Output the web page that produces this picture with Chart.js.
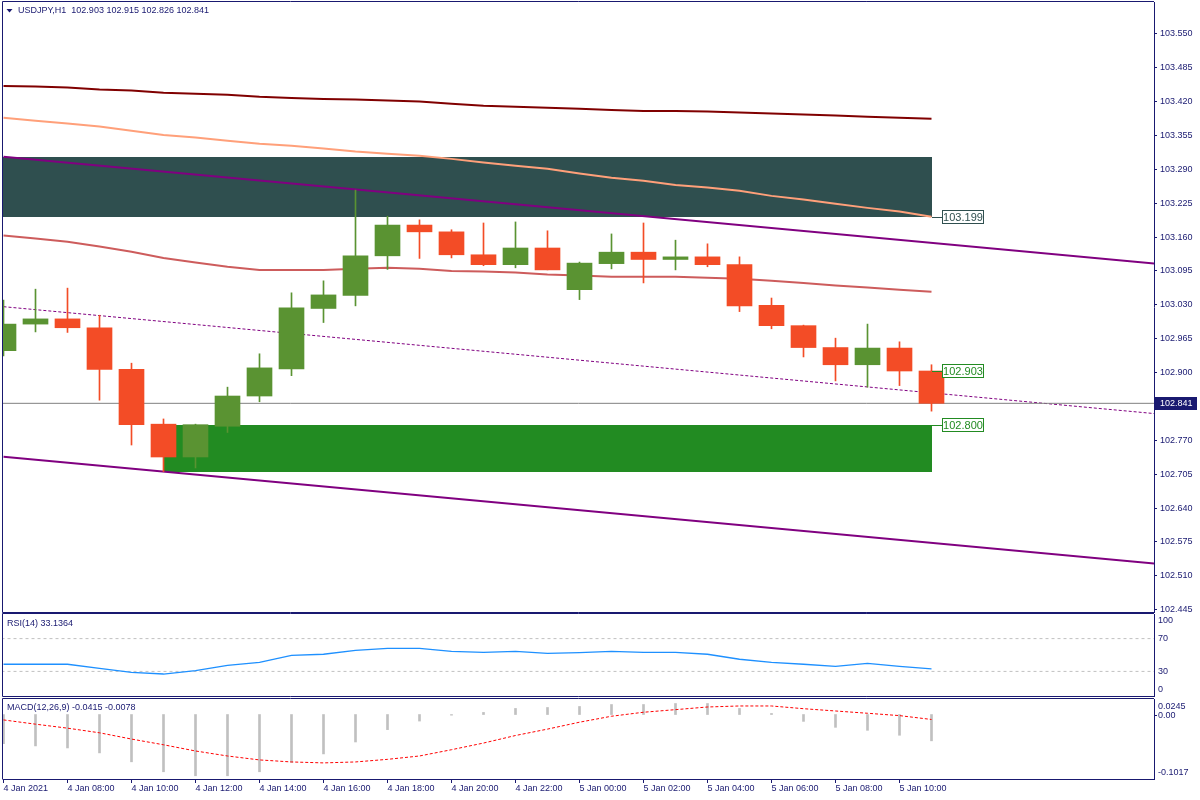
<!DOCTYPE html>
<html><head><meta charset="utf-8">
<script src="https://cdn.jsdelivr.net/npm/chart.js@4.4.1/dist/chart.umd.min.js"></script>
<style>
html,body{margin:0;padding:0;background:#fff;width:1200px;height:800px;overflow:hidden}
canvas{position:absolute;left:0}
#c1{top:0}#c2{top:613px}#c3{top:697px}
</style></head><body>
<canvas id="c1" width="1200" height="613"></canvas>
<canvas id="c2" width="1200" height="84"></canvas>
<canvas id="c3" width="1200" height="103"></canvas>
<script>
// ---------- DATA ----------
const symbol = 'USDJPY,H1';
const timeLabels = ['4 Jan 2021','4 Jan 08:00','4 Jan 10:00','4 Jan 12:00','4 Jan 14:00','4 Jan 16:00','4 Jan 18:00','4 Jan 20:00','4 Jan 22:00','5 Jan 00:00','5 Jan 02:00','5 Jan 04:00','5 Jan 06:00','5 Jan 08:00','5 Jan 10:00'];
const opens  = [102.942,102.993,103.003,102.986,102.906,102.801,102.738,102.797,102.855,102.907,103.023,103.048,103.124,103.183,103.170,103.126,103.107,103.139,103.059,103.109,103.131,103.117,103.122,103.107,103.029,102.990,102.948,102.915,102.947,102.903];
const highs  = [103.039,103.060,103.062,103.010,102.918,102.811,102.801,102.872,102.936,103.053,103.076,103.250,103.200,103.193,103.174,103.187,103.189,103.172,103.112,103.166,103.187,103.154,103.147,103.122,103.043,102.991,102.966,102.993,102.959,102.915];
const lows   = [102.932,102.978,102.977,102.847,102.761,102.710,102.717,102.785,102.844,102.894,102.996,103.028,103.098,103.119,103.120,103.105,103.101,103.097,103.040,103.099,103.072,103.097,103.103,103.017,102.984,102.930,102.884,102.872,102.875,102.826];
const closes = [102.993,103.003,102.986,102.906,102.800,102.738,102.800,102.855,102.909,103.024,103.049,103.124,103.183,103.170,103.126,103.107,103.139,103.097,103.110,103.131,103.117,103.122,103.107,103.028,102.990,102.948,102.915,102.947,102.903,102.841];
const maSlow   = [103.450,103.449,103.447,103.443,103.441,103.437,103.435,103.433,103.429,103.427,103.425,103.424,103.422,103.420,103.416,103.412,103.410,103.408,103.406,103.404,103.402,103.402,103.401,103.399,103.397,103.395,103.393,103.391,103.389,103.387];
const maMid    = [103.389,103.383,103.378,103.372,103.364,103.356,103.351,103.345,103.339,103.335,103.330,103.324,103.320,103.316,103.310,103.303,103.297,103.291,103.282,103.274,103.268,103.260,103.255,103.249,103.239,103.232,103.224,103.216,103.209,103.199];
const maFast   = [103.163,103.157,103.151,103.142,103.132,103.120,103.111,103.103,103.097,103.097,103.097,103.099,103.101,103.099,103.095,103.094,103.092,103.088,103.086,103.084,103.084,103.084,103.082,103.080,103.076,103.072,103.067,103.063,103.059,103.055];
const channelBars  = [0, 36];
const channelUpper = [103.3142, 103.1089];
const channelMid   = [103.0264, 102.8211];
const channelLower = [102.7386, 102.5333];
const supplyZone = [-1, 29, 103.314, 103.199];   // fromBar, toBar, top, bottom
const demandZone = [5, 29, 102.800, 102.710];
const priceTags  = [103.199, 102.903, 102.800];
const priceTicks = [103.550,103.485,103.420,103.355,103.290,103.225,103.160,103.095,103.030,102.965,102.900,102.770,102.705,102.640,102.575,102.510,102.445];
const priceMin = 102.4406, priceMax = 103.6110;
const rsi = [38.7,38.7,38.7,33.8,28.9,26.8,30.9,37.4,41.1,49.6,50.9,55.7,58.2,58.2,54.5,53.3,54.5,52.1,53.0,54.5,53.3,53.3,50.9,44.8,41.1,38.7,36.2,39.9,36.2,33.1364];
const rsiLevels = [70, 30];
const rsiTicks = [100, 70, 30, 0];
const macdHist = [-0.0458,-0.0495,-0.0527,-0.0605,-0.0746,-0.0903,-0.0966,-0.0966,-0.0903,-0.0756,-0.0621,-0.0433,-0.0238,-0.0103,-0.0010,0.0033,0.0096,0.0111,0.0127,0.0158,0.0158,0.0174,0.0174,0.0096,0.0017,-0.0108,-0.0202,-0.0249,-0.0327,-0.0415];
const macdSignal = [-0.0085,-0.0152,-0.0215,-0.0288,-0.0387,-0.0477,-0.0575,-0.0654,-0.0716,-0.0748,-0.0763,-0.0748,-0.0707,-0.0654,-0.0555,-0.0450,-0.0331,-0.0230,-0.0121,-0.0027,0.0036,0.0077,0.0119,0.0135,0.0135,0.0092,0.0056,0.0020,-0.0017,-0.0078];
const macdTicks = [0.0245, 0.00, -0.1017];
const macdTickText = ['0.0245', '0.00', '-0.1017'];

// ---------- STYLE ----------
const NAVY = '#191970';
const FONT = '"Liberation Sans", Arial, sans-serif';
const UP = '#5A9332', DOWN = '#F34C26';
const XMIN = -0.015625, XMAX = 35.953125;
const last = closes.length - 1;

const xHidden = {type:'linear', min:XMIN, max:XMAX, offset:false, display:false, grid:{display:false, offset:false}};
function fixY(s){ s.width = 46; s.paddingTop = 0; s.paddingBottom = 0; }
const base = {responsive:false, animation:false, devicePixelRatio:1,
  plugins:{legend:{display:false}, tooltip:{enabled:false}}};

function frame(chart, withBottom){
  const {ctx, chartArea:a} = chart;
  ctx.save(); ctx.strokeStyle = NAVY; ctx.lineWidth = 1; ctx.beginPath();
  ctx.moveTo(a.right, a.top - 0.5); ctx.lineTo(2.5, a.top - 0.5);
  ctx.lineTo(2.5, a.bottom + 0.5);
  if (withBottom) ctx.lineTo(a.right, a.bottom + 0.5);
  ctx.stroke(); ctx.restore();
}
const pts = arr => arr.map((v,i)=>({x:i, y:v}));
const lineDs = (data, color, width, dash, order) => ({type:'line', data, borderColor:color, borderWidth:width,
  borderDash:dash||[], pointRadius:0, tension:0, fill:false, order});

// ---------- MAIN ----------
const candleColors = closes.map((c,i)=> c >= opens[i] ? UP : DOWN);
const mainDeco = {
  id:'mainDeco',
  beforeDatasetsDraw(chart){
    const {ctx, chartArea:a, scales:{x,y}} = chart;
    ctx.save(); ctx.beginPath(); ctx.rect(a.left, a.top, a.right-a.left, a.bottom-a.top); ctx.clip();
    [[supplyZone,'#2F4F4F'],[demandZone,'#228B22']].forEach(([z,c])=>{
      const x1 = Math.round(x.getPixelForValue(z[0])), x2 = Math.round(x.getPixelForValue(z[1]));
      const y1 = Math.round(y.getPixelForValue(z[2])), y2 = Math.round(y.getPixelForValue(z[3]));
      ctx.fillStyle = c; ctx.fillRect(x1, y1, x2-x1, y2-y1);
    });
    ctx.restore();
  },
  afterDatasetsDraw(chart){
    const {ctx, scales:{x,y}} = chart;
    const colors = ['#2F4F4F','#228B22','#228B22'];
    ctx.save();
    priceTags.forEach((p,k)=>{
      const yr = Math.round(y.getPixelForValue(p));
      const xs = Math.round(x.getPixelForValue(supplyZone[1]));
      ctx.strokeStyle = colors[k]; ctx.lineWidth = 1;
      ctx.beginPath(); ctx.moveTo(xs, yr+0.5); ctx.lineTo(942, yr+0.5); ctx.stroke();
      ctx.fillStyle = '#fff'; ctx.fillRect(942.5, yr-6.5, 41, 13);
      ctx.strokeRect(942.5, yr-6.5, 41, 13);
      ctx.fillStyle = colors[k]; ctx.font = '11px ' + FONT; ctx.textAlign = 'center'; ctx.textBaseline = 'middle';
      ctx.fillText(p.toFixed(3), 963, yr+0.5);
    });
    ctx.restore();
  },
  afterDraw(chart){
    frame(chart, true);
    const {ctx, scales:{y}} = chart;
    ctx.save();
    // header
    ctx.fillStyle = NAVY;
    ctx.beginPath(); ctx.moveTo(6.5,9); ctx.lineTo(12.5,9); ctx.lineTo(9.5,12.5); ctx.closePath(); ctx.fill();
    ctx.font = '9px ' + FONT; ctx.textAlign = 'left'; ctx.textBaseline = 'middle';
    ctx.fillText(symbol + '  ' + [opens[last],highs[last],lows[last],closes[last]].map(v=>v.toFixed(3)).join(' '), 18, 11);
    // current price tag on axis
    const yp = Math.round(y.getPixelForValue(closes[last]));
    ctx.fillStyle = NAVY; ctx.fillRect(1155, yp-6, 42, 13);
    ctx.fillStyle = '#fff'; ctx.fillText(closes[last].toFixed(3), 1160, yp+0.5);
    ctx.restore();
  }
};
new Chart(document.getElementById('c1'), {
  type:'bar',
  data:{datasets:[
    {type:'bar', data: opens.map((o,i)=>({x:i, y:[o, closes[i]]})), backgroundColor:candleColors, barThickness:25, grouped:false, borderWidth:0, order:0},
    {type:'bar', data: lows.map((l,i)=>({x:i, y:[l, highs[i]]})), backgroundColor:candleColors, barThickness:1, grouped:false, borderWidth:0, order:1},
    lineDs([{x:-1,y:closes[last]},{x:37,y:closes[last]}], '#808080', 1, null, 2),
    lineDs(pts(maFast), '#CD5C5C', 2, null, 3),
    lineDs(channelBars.map((b,k)=>({x:b,y:channelMid[k]})), '#800080', 1, [3,2], 3),
    lineDs(channelBars.map((b,k)=>({x:b,y:channelLower[k]})), '#800080', 2, null, 3),
    lineDs(channelBars.map((b,k)=>({x:b,y:channelUpper[k]})), '#800080', 2, null, 3),
    lineDs(pts(maMid), '#FFA07A', 2, null, 3),
    lineDs(pts(maSlow), '#800000', 2, null, 3)
  ]},
  options:Object.assign({}, base, {
    layout:{padding:{left:3, top:2, right:0, bottom:1}},
    scales:{
      x: xHidden,
      y: {position:'right', min:priceMin, max:priceMax, beginAtZero:false,
        afterFit: fixY,
        afterBuildTicks(s){ s.ticks = priceTicks.map(v=>({value:v})); },
        ticks:{autoSkip:false, padding:3, color:NAVY, font:{family:FONT, size:9}, callback:v=>Number(v).toFixed(3)},
        grid:{display:true, drawOnChartArea:false, drawTicks:true, tickLength:3, color:NAVY},
        border:{display:true, color:NAVY}}
    }
  }),
  plugins:[mainDeco]
});

// ---------- RSI ----------
const rsiDeco = {
  id:'rsiDeco',
  afterDraw(chart){
    frame(chart, true);
    const {ctx, chartArea:a, scales:{y}} = chart;
    ctx.save(); ctx.fillStyle = NAVY; ctx.font = '9px ' + FONT; ctx.textBaseline = 'middle'; ctx.textAlign = 'left';
    ctx.fillText('RSI(14) ' + rsi[last].toFixed(4), 7, a.top + 10);
    rsiTicks.forEach(v=>{
      let yy = y.getPixelForValue(v);
      if (v === 100) yy += 7; else if (v === 0) yy -= 6.5;
      ctx.fillText(String(v), 1158, yy);
    });
    ctx.restore();
  }
};
new Chart(document.getElementById('c2'), {
  type:'line',
  data:{datasets:[
    lineDs(pts(rsi), '#1E90FF', 1.3, null, 0),
    ...rsiLevels.map(l => lineDs([{x:-1,y:l},{x:37,y:l}], '#C0C0C0', 1, [3,3], 1))
  ]},
  options:Object.assign({}, base, {
    layout:{padding:{left:3, top:1, right:0, bottom:1}},
    scales:{
      x: xHidden,
      y: {position:'right', min:0, max:100, afterFit: fixY, ticks:{display:false}, grid:{display:false}, border:{display:true, color:NAVY}}
    }
  }),
  plugins:[rsiDeco]
});

// ---------- MACD ----------
const macdDeco = {
  id:'macdDeco',
  afterDraw(chart){
    frame(chart, false);
    const {ctx, chartArea:a, scales:{y}} = chart;
    ctx.save(); ctx.fillStyle = NAVY; ctx.strokeStyle = NAVY; ctx.font = '9px ' + FONT; ctx.textBaseline = 'middle'; ctx.textAlign = 'left';
    ctx.fillText('MACD(12,26,9) ' + macdHist[last].toFixed(4) + ' ' + macdSignal[last].toFixed(4), 7, a.top + 9);
    macdTicks.forEach((v,k)=>{
      let yy = y.getPixelForValue(v);
      if (k === 0) yy += 7.5; else if (k === macdTicks.length-1) yy -= 6.5; else {
        ctx.beginPath(); ctx.moveTo(a.right, Math.round(yy)+0.5); ctx.lineTo(a.right+3, Math.round(yy)+0.5); ctx.stroke();
        yy += 1;
      }
      ctx.fillText(macdTickText[k], 1158, yy);
    });
    ctx.restore();
  }
};
new Chart(document.getElementById('c3'), {
  type:'bar',
  data:{datasets:[
    {type:'bar', data: macdHist.map((v,i)=>({x:i, y:[0, v]})), backgroundColor:'#C0C0C0', barThickness:2, grouped:false, borderWidth:0, order:1},
    lineDs(pts(macdSignal), '#FF0000', 1, [3,2], 0)
  ]},
  options:Object.assign({}, base, {
    layout:{padding:{left:3, top:2, right:0, bottom:0}},
    scales:{
      x: {type:'linear', min:XMIN, max:XMAX, offset:false, position:'bottom',
        afterBuildTicks(s){ s.ticks = timeLabels.map((_,k)=>({value:k*2})); },
        afterFit(s){ s.height = 21; s.paddingLeft = 0; s.paddingRight = 0; },
        ticks:{autoSkip:false, maxRotation:0, minRotation:0, align:'start', padding:0, color:NAVY, font:{family:FONT, size:9},
          callback:(v,idx)=>timeLabels[idx]},
        grid:{display:true, drawOnChartArea:false, drawTicks:true, tickLength:4, color:NAVY, offset:false},
        border:{display:true, color:NAVY}},
      y: {position:'right', min:macdTicks[2], max:macdTicks[0], beginAtZero:false, afterFit: fixY, ticks:{display:false}, grid:{display:false}, border:{display:true, color:NAVY}}
    }
  }),
  plugins:[macdDeco]
});
</script>
</body></html>
